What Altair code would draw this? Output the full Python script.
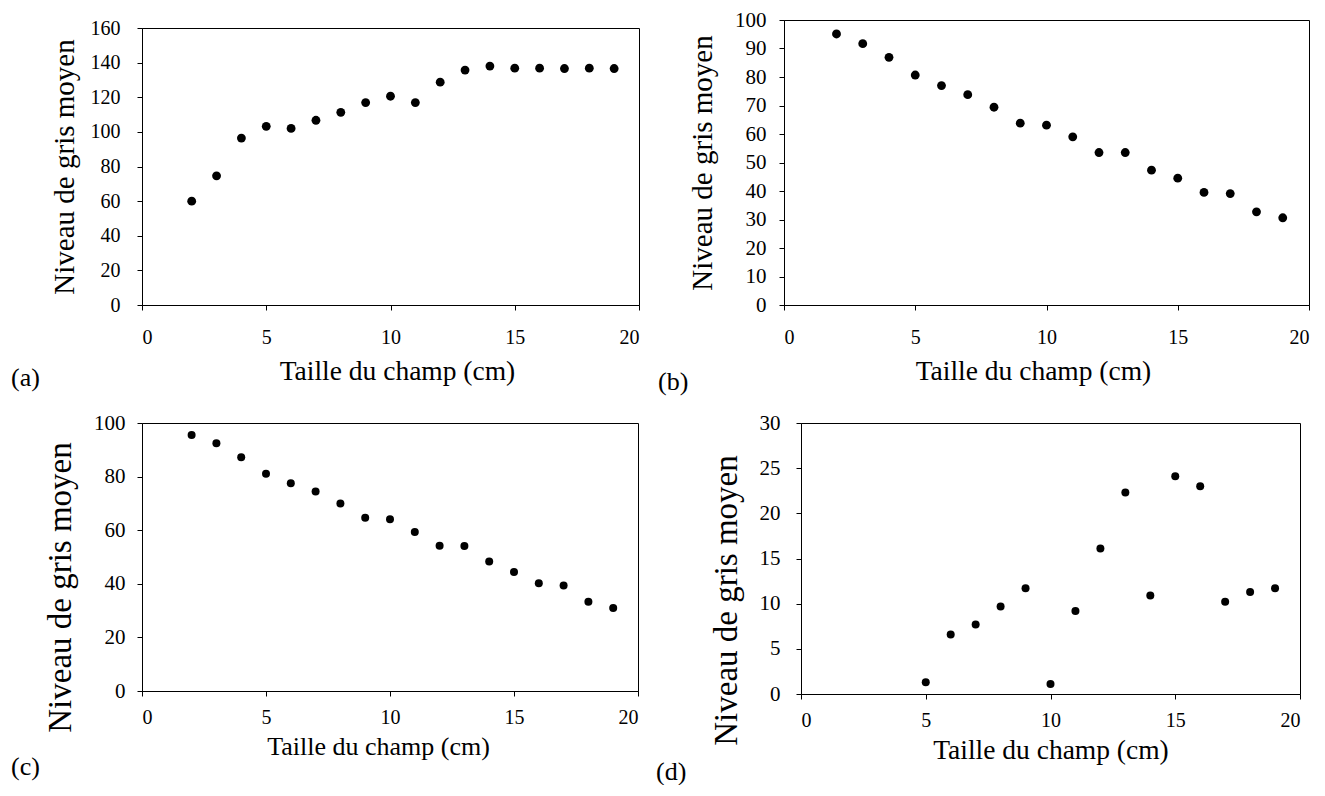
import altair as alt
import pandas as pd

FONT = "Liberation Serif"

# ---- data ----
x_a = [2, 3, 4, 5, 6, 7, 8, 9, 10, 11, 12, 13, 14, 15, 16, 17, 18, 19]
y_a = [60.0, 74.6, 96.4, 103.2, 102.0, 106.7, 111.3, 116.9, 120.6, 116.9,
       128.7, 135.7, 138.0, 136.8, 136.8, 136.6, 136.8, 136.6]

x_b = [2, 3, 4, 5, 6, 7, 8, 9, 10, 11, 12, 13, 14, 15, 16, 17, 18, 19]
y_b = [95.1, 91.7, 86.9, 80.7, 77.0, 73.8, 69.4, 63.8, 63.1, 59.0,
       53.5, 53.5, 47.3, 44.5, 39.5, 39.1, 32.7, 30.6]

x_c = [2, 3, 4, 5, 6, 7, 8, 9, 10, 11, 12, 13, 14, 15, 16, 17, 18, 19]
y_c = [95.5, 92.4, 87.2, 81.1, 77.5, 74.4, 70.0, 64.6, 64.1, 59.3,
       54.2, 54.1, 48.3, 44.4, 40.2, 39.4, 33.3, 31.0]

x_d = [5, 6, 7, 8, 9, 10, 11, 12, 13, 14, 15, 16, 17, 18, 19]
y_d = [1.3, 6.6, 7.7, 9.7, 11.7, 1.1, 9.2, 16.1, 22.3, 10.9, 24.1, 23.0,
       10.2, 11.3, 11.7]

x_ticks = [0, 5, 10, 15, 20]
y_ticks_a = [0, 20, 40, 60, 80, 100, 120, 140, 160]
y_ticks_b = [0, 10, 20, 30, 40, 50, 60, 70, 80, 90, 100]
y_ticks_c = [0, 20, 40, 60, 80, 100]
y_ticks_d = [0, 5, 10, 15, 20, 25, 30]

X_TITLE = "Taille du champ (cm)"
Y_TITLE = "Niveau de gris moyen"


def panel(xs, ys, yticks, w, h, label, label_dx, label_dy, ytitle_size,
          ylabel_size, ylabel_pad, ytitle_pad, xlabel_pad, xtitle_pad,
          xtitle_size, dot_size, ytitle_y=None, xtitle_x=None):
    df = pd.DataFrame({"x": xs, "y": ys})
    yax = dict(title=Y_TITLE, values=yticks, format="d", tickSize=5,
               labelFontSize=ylabel_size, labelPadding=ylabel_pad,
               titleFontSize=ytitle_size, titlePadding=ytitle_pad)
    if ytitle_y is not None:
        yax["titleY"] = ytitle_y
    xax = dict(title=X_TITLE, values=x_ticks, format="d", tickSize=5,
               labelFontSize=20, labelPadding=xlabel_pad,
               titleFontSize=xtitle_size, titlePadding=xtitle_pad)
    if xtitle_x is not None:
        xax["titleX"] = xtitle_x
    return alt.Chart(df).mark_circle(size=dot_size, color="black", opacity=1).encode(
        x=alt.X("x:Q", scale=alt.Scale(domain=[0, 20], nice=False),
                axis=alt.Axis(**xax)),
        y=alt.Y("y:Q", scale=alt.Scale(domain=[yticks[0], yticks[-1]], nice=False),
                axis=alt.Axis(**yax)),
    ).properties(
        width=w, height=h,
        title=alt.TitleParams(text=label, orient="bottom", anchor="start",
                              frame="group", dx=label_dx, dy=label_dy, offset=0,
                              fontSize=26, font=FONT, fontWeight="normal",
                              color="black"),
    )


a = panel(x_a, y_a, y_ticks_a, 497, 277, "(a)", -131, -20, 29, 20, 17, 11, 17, 10,
          27.5, 78, xtitle_x=255)
b = panel(x_b, y_b, y_ticks_b, 525, 285, "(b)", -126, -16, 29, 21, 13, 17, 17, 10,
          27.5, 78, xtitle_x=249)
c = panel(x_c, y_c, y_ticks_c, 496, 268, "(c)", -131, -5, 33, 21, 12, 16, 11, 6,
          26, 64, ytitle_y=164, xtitle_x=236)
d = panel(x_d, y_d, y_ticks_d, 499, 271, "(d)", -145, -5, 33, 21, 16, 16, 11, 6,
          27.5, 64, ytitle_y=177)

spacer = alt.Chart(pd.DataFrame({"s": [0]})).mark_point(opacity=0).properties(
    width=1, height=1, view=alt.ViewBackground(strokeOpacity=0)
)

left_top = alt.vconcat(spacer, a, spacing=-7)
row1 = alt.hconcat(left_top, b, spacing=17)
row2 = alt.hconcat(c, d, spacing=16)

chart = alt.vconcat(row1, row2, spacing=16).properties(
    padding={"left": 2, "top": 0, "right": 0, "bottom": 0},
    background="white",
).configure_view(
    stroke="black", strokeWidth=1
).configure_axis(
    grid=False, domainColor="black", domainWidth=1, tickColor="black",
    labelColor="black", titleColor="black", labelFont=FONT, titleFont=FONT,
    titleFontWeight="normal", labelFontWeight="normal",
).configure_title(font=FONT)

chart.save("out.html", embed_options={"renderer": "svg", "actions": False})
